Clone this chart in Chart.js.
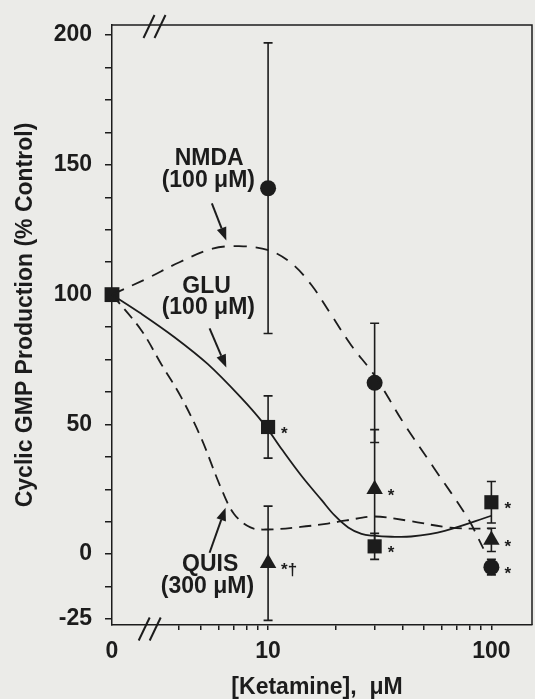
<!DOCTYPE html>
<html><head><meta charset="utf-8">
<script src="https://cdn.jsdelivr.net/npm/chart.js@4.4.1/dist/chart.umd.min.js"></script>
<style>html,body{margin:0;padding:0;background:#ebebe8;}canvas{display:block}</style>
</head><body>
<canvas id="c" width="535" height="699"></canvas>
<script>
// ---- data ----
const controlConc = [0];
const controlVal = [100];

const pointConc = [10, 30, 100];
const nmdaMean = [141, 66, -5];
const nmdaErr  = [56, 23, 3];
const gluMean  = [49, 3, 20];
const gluErr   = [12, 5, 8];
const quisMean = [-3.5, 25, 5.5];
const quisErr  = [22, 23, 4.5];
const nmdaStars = ['', '', '*'];
const gluStars  = ['*', '*', '*'];
const quisStars = ['*†', '*', '*'];

const nmdaCurveConc = [0, 2.85, 4.01, 5.64, 7.41, 10.07, 12.8, 15.7, 19.25, 23.6, 30, 40.6, 55.2, 78.2, 92.1];
const nmdaCurveVal  = [100, 106.1, 112.5, 117.7, 118.7, 117.1, 111.9, 103.5, 92.0, 80.4, 68.8, 50.3, 33.3, 14, 2.1];
const gluCurveConc  = [0, 2.71, 3.81, 5.36, 7.53, 9.57, 11.54, 14.16, 17.38, 19.91, 22.84, 26.2, 29.5, 35.6, 43.7, 61.8, 100];
const gluCurveVal   = [100, 92.6, 83.6, 73.3, 60.5, 50.2, 40.3, 30.0, 20.8, 14.8, 10.3, 7.8, 7.1, 6.7, 6.8, 9.0, 14.8];
const quisCurveConc = [0, 2.71, 3.32, 4.08, 5.00, 6.14, 7.04, 8.34, 9.9, 14.0, 18.5, 22.4, 30, 42.3, 65.7, 100];
const quisCurveVal  = [100, 86.2, 73.3, 60.5, 45.0, 25.7, 15.5, 10.3, 9.5, 10.5, 11.8, 13.0, 14.5, 12.9, 10.2, 9.8];

const yTickValues = [-25, -12.5, 0, 12.5, 25, 37.5, 50, 62.5, 75, 87.5, 100, 112.5, 125, 137.5, 150, 162.5, 175, 187.5, 200];
const yTickLabels = [-25, 0, 50, 100, 150, 200];
const xTickValues = [0, 4, 5, 6, 7, 8, 9, 10, 20, 30, 40, 50, 60, 70, 80, 90, 100];
const xTickLabels = [0, 10, 100];

// annotations in data coordinates [conc, value]
const labelTexts = [
  ['NMDA', 5.45, 149.8], ['(100 μM)', 5.4, 141.4],
  ['GLU', 5.3, 100.8], ['(100 μM)', 5.4, 92.7],
  ['QUIS', 5.5, -6.4], ['(300 μM)', 5.35, -14.9]
];
const arrows = [
  [5.6, 135.2, 6.5, 120.9],
  [5.47, 86.96, 6.5, 71.9],
  [5.47, 0.54, 6.45, 17.9]
];

// ---- scale settings ----
const ZERO_POS = 2;      // broken-axis position standing for 0 µM
const X_MAX = 152;
const Y_MIN = -27.3, Y_MAX = 203.9;
const INK = '#1c1c1c';
const FONT = '"Liberation Sans", Arial, sans-serif';

const xp = c => c === 0 ? ZERO_POS : c;
const pts = (xs, ys) => xs.map((c, i) => ({x: xp(c), y: ys[i]}));

const curve = (xs, ys, dash) => ({
  data: pts(xs, ys), showLine: true, borderColor: INK, borderWidth: 1.8,
  borderDash: dash, pointRadius: 0, tension: 0.35, fill: false, clip: false
});
const marks = (ys, style, r) => ({
  data: pts(pointConc, ys), showLine: false, pointStyle: style, pointRadius: r,
  pointBackgroundColor: INK, pointBorderColor: INK, pointBorderWidth: 0, clip: false
});

const series = [
  {mean: nmdaMean, err: nmdaErr, stars: nmdaStars},
  {mean: gluMean, err: gluErr, stars: gluStars},
  {mean: quisMean, err: quisErr, stars: quisStars}
];

const bgPlugin = {
  id: 'bg',
  beforeDraw(chart) {
    const c = chart.ctx;
    c.save(); c.fillStyle = '#ebebe8'; c.fillRect(0, 0, chart.width, chart.height); c.restore();
  }
};

const errPlugin = {
  id: 'err',
  beforeDatasetsDraw(chart) {
    const {ctx, scales: {x, y}} = chart;
    ctx.save(); ctx.strokeStyle = INK; ctx.lineWidth = 1.6;
    series.forEach(s => {
      pointConc.forEach((c, i) => {
        const px = x.getPixelForValue(xp(c));
        const t = y.getPixelForValue(s.mean[i] + s.err[i]);
        const b = y.getPixelForValue(s.mean[i] - s.err[i]);
        ctx.beginPath();
        ctx.moveTo(px, t); ctx.lineTo(px, b);
        ctx.moveTo(px - 4.5, t); ctx.lineTo(px + 4.5, t);
        ctx.moveTo(px - 4.5, b); ctx.lineTo(px + 4.5, b);
        ctx.stroke();
      });
    });
    ctx.restore();
  },
  afterDatasetsDraw(chart) {
    const {ctx, scales: {x, y}} = chart;
    ctx.save(); ctx.fillStyle = INK;
    ctx.font = 'bold 17px ' + FONT; ctx.textAlign = 'left'; ctx.textBaseline = 'alphabetic';
    series.forEach(s => {
      pointConc.forEach((c, i) => {
        if (!s.stars[i]) return;
        const px = x.getPixelForValue(xp(c));
        const py = y.getPixelForValue(s.mean[i]);
        ctx.fillText(s.stars[i], px + 13, py + 12);
      });
    });
    ctx.restore();
  }
};

const decorPlugin = {
  id: 'decor',
  afterDraw(chart) {
    const {ctx, chartArea: a, scales: {x, y}} = chart;
    ctx.save();
    ctx.strokeStyle = INK; ctx.fillStyle = INK;
    ctx.lineWidth = 1.5;
    ctx.beginPath();
    ctx.moveTo(a.left, a.top); ctx.lineTo(a.right, a.top); ctx.lineTo(a.right, a.bottom);
    ctx.stroke();
    ctx.lineWidth = 2;
    const br = (cx, cy) => {
      [-5.5, 5.5].forEach(o => {
        ctx.beginPath();
        ctx.moveTo(cx + o - 5.5, cy + 11.5); ctx.lineTo(cx + o + 5.5, cy - 11.5); ctx.stroke();
      });
    };
    br(x.getPixelForValue(3.1), a.top + 1.5);
    br(x.getPixelForValue(2.95), a.bottom + 4);
    ctx.font = 'bold 23px ' + FONT; ctx.textAlign = 'center'; ctx.textBaseline = 'alphabetic';
    labelTexts.forEach(([t, cx, cy]) => ctx.fillText(t, x.getPixelForValue(cx), y.getPixelForValue(cy)));
    ctx.lineWidth = 2;
    arrows.forEach(([x1, y1, x2, y2]) => {
      const X1 = x.getPixelForValue(x1), Y1 = y.getPixelForValue(y1);
      const X2 = x.getPixelForValue(x2), Y2 = y.getPixelForValue(y2);
      const ang = Math.atan2(Y2 - Y1, X2 - X1);
      const L = 13, W = 5;
      const bx = X2 - L * Math.cos(ang), by = Y2 - L * Math.sin(ang);
      ctx.beginPath(); ctx.moveTo(X1, Y1); ctx.lineTo(bx, by); ctx.stroke();
      ctx.beginPath();
      ctx.moveTo(X2, Y2);
      ctx.lineTo(bx + W * Math.sin(ang), by - W * Math.cos(ang));
      ctx.lineTo(bx - W * Math.sin(ang), by + W * Math.cos(ang));
      ctx.closePath(); ctx.fill();
    });
    ctx.font = 'bold 23px ' + FONT;
    ctx.textAlign = 'center'; ctx.textBaseline = 'middle';
    ctx.save();
    ctx.translate(26, (a.top + a.bottom) / 2 - 10);
    ctx.rotate(-Math.PI / 2);
    ctx.fillText('Cyclic GMP Production (% Control)', 0, 0);
    ctx.restore();
    ctx.fillText('[Ketamine],  μM', 317, 688);
    ctx.restore();
  }
};

const noPad = s => { s.paddingLeft = 0; s.paddingRight = 0; s.paddingTop = 0; s.paddingBottom = 0; };

new Chart(document.getElementById('c'), {
  type: 'scatter',
  data: {
    datasets: [
      curve(nmdaCurveConc, nmdaCurveVal, [13, 9]),
      curve(gluCurveConc, gluCurveVal, []),
      curve(quisCurveConc, quisCurveVal, [12, 7]),
      marks(nmdaMean, 'circle', 8),
      marks(gluMean, 'rect', 10),
      marks(quisMean, 'triangle', 9.5),
      {data: pts(controlConc, controlVal), showLine: false, pointStyle: 'rect', pointRadius: 10.5,
       pointBackgroundColor: INK, pointBorderColor: INK, pointBorderWidth: 0, clip: false}
    ]
  },
  options: {
    responsive: false, animation: false, devicePixelRatio: 1,
    layout: {autoPadding: false, padding: {top: 25, right: 3, left: 0, bottom: 0}},
    plugins: {legend: {display: false}, tooltip: {enabled: false}},
    scales: {
      x: {
        type: 'logarithmic', min: ZERO_POS, max: X_MAX,
        afterBuildTicks: s => { s.ticks = xTickValues.map(v => ({value: xp(v)})); },
        afterFit: s => { s.height = 74; noPad(s); },
        ticks: {
          autoSkip: false, maxRotation: 0, padding: 8, color: INK,
          font: {family: FONT, size: 23, weight: 'bold'},
          callback: v => { const k = xTickLabels.find(t => xp(t) === v); return k === undefined ? '' : String(k); }
        },
        grid: {drawOnChartArea: false, drawTicks: true, tickLength: 5, lineWidth: 1.5,
               tickColor: c => (c.tick && c.tick.value === ZERO_POS) ? 'rgba(0,0,0,0)' : INK},
        border: {display: true, color: INK, width: 1.5}
      },
      y: {
        type: 'linear', min: Y_MIN, max: Y_MAX,
        afterBuildTicks: s => { s.ticks = yTickValues.map(v => ({value: v})); },
        afterFit: s => { s.width = 112; noPad(s); },
        ticks: {
          autoSkip: false, padding: 13, color: INK,
          font: {family: FONT, size: 23, weight: 'bold'},
          callback: v => yTickLabels.includes(v) ? String(v) : ''
        },
        grid: {drawOnChartArea: false, drawTicks: true, tickLength: 7, lineWidth: 1.5, tickColor: INK},
        border: {display: true, color: INK, width: 1.5}
      }
    }
  },
  plugins: [bgPlugin, errPlugin, decorPlugin]
});
</script>
</body></html>
